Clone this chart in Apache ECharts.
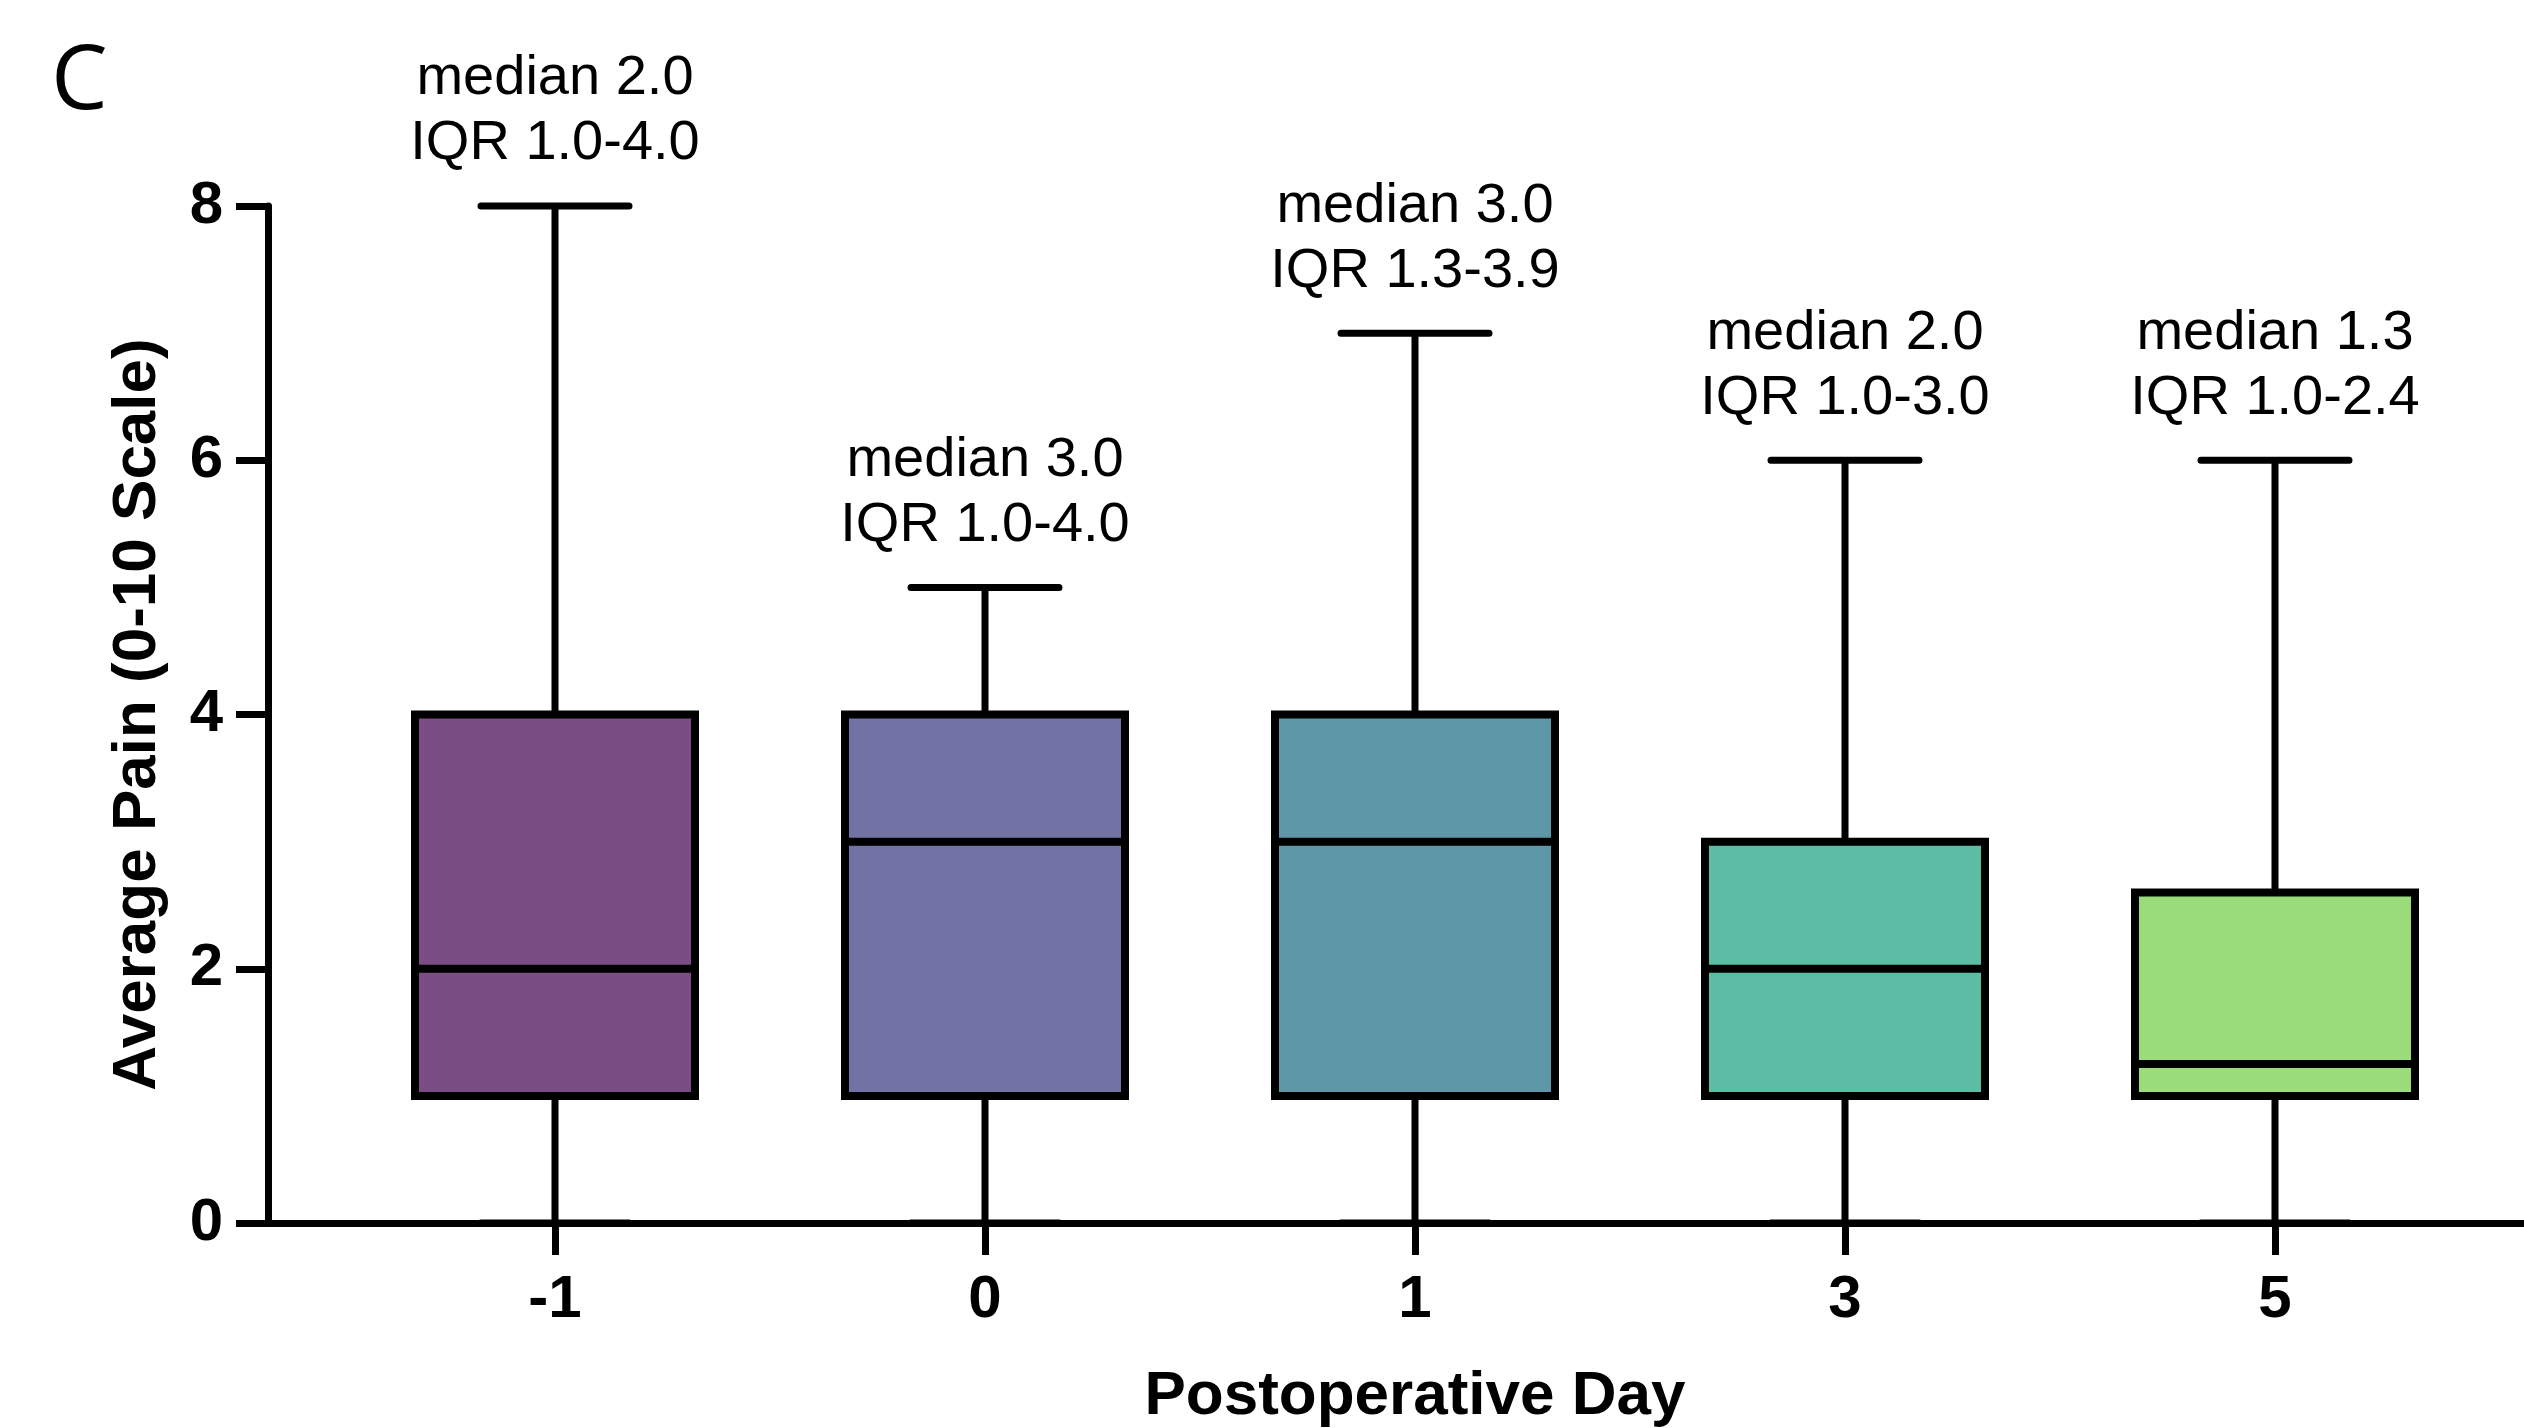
<!DOCTYPE html>
<html>
<head>
<meta charset="utf-8">
<script src="https://cdn.jsdelivr.net/npm/echarts@6/dist/echarts.min.js"></script>
<style>
html,body{margin:0;padding:0;background:#fff}
#chart{width:2524px;height:1428px}
</style>
</head>
<body>
<div id="chart"></div>
<script>
// ---- data ----
const days = ['-1', '0', '1', '3', '5'];
const minVals = [0, 0, 0, 0, 0];
const q1Vals = [1.0, 1.0, 1.0, 1.0, 1.0];
const medianVals = [2.0, 3.0, 3.0, 2.0, 1.25];
const q3Vals = [4.0, 4.0, 4.0, 3.0, 2.6];
const maxVals = [8, 5, 7, 6, 6];
const medianText = ['2.0', '3.0', '3.0', '2.0', '1.3'];
const iqrText = ['1.0-4.0', '1.0-4.0', '1.3-3.9', '1.0-3.0', '1.0-2.4'];
const yTicks = [0, 2, 4, 6, 8];
const boxColors = ['#7A4D85', '#7173A4', '#5E98A8', '#5BBDA3', '#9ADC7A'];

// ---- chart ----
const chart = echarts.init(document.getElementById('chart'));
const FONT = 'Liberation Sans, Arial, Helvetica, sans-serif';

const option = {
  animation: false,
  backgroundColor: '#ffffff',
  title: {
    text: 'C',
    left: 46,
    top: 33,
    textStyle: { fontFamily: 'Open Sans', fontWeight: 'normal', fontSize: 90, color: '#000' }
  },
  grid: [
    { left: 268, right: 0, top: 206, bottom: 205, containLabel: false, outerBoundsMode: 'none' },
    { left: 340, width: 2150, top: 206, bottom: 205, containLabel: false, outerBoundsMode: 'none' }
  ],
  xAxis: [
    {
      gridIndex: 0, type: 'value', min: 0, max: 1,
      axisLine: { show: true, lineStyle: { color: '#000', width: 7 } },
      axisTick: { show: false }, axisLabel: { show: false }, splitLine: { show: false }
    },
    {
      gridIndex: 1, type: 'category', data: days, position: 'bottom',
      axisLine: { show: false },
      axisTick: { show: true, alignWithLabel: true, length: 32, lineStyle: { color: '#000', width: 7 } },
      axisLabel: { margin: 47, fontSize: 60, fontWeight: 'bold', fontFamily: FONT, color: '#000' },
      splitLine: { show: false },
      name: 'Postoperative Day', nameLocation: 'middle', nameGap: 143,
      nameTextStyle: { fontSize: 62, fontWeight: 'bold', fontFamily: FONT, color: '#000' }
    },
    {
      gridIndex: 1, type: 'category', data: days, position: 'top', show: false
    }
  ],
  yAxis: [
    {
      gridIndex: 0, type: 'value', min: yTicks[0], max: yTicks[yTicks.length - 1], interval: 2,
      axisLine: { show: true, lineStyle: { color: '#000', width: 7 } },
      axisTick: { show: true, length: 32, lineStyle: { color: '#000', width: 7 } },
      axisLabel: { margin: 45, fontSize: 60, fontWeight: 'bold', fontFamily: FONT, color: '#000' },
      splitLine: { show: false },
      name: 'Average Pain (0-10 Scale)', nameLocation: 'middle', nameGap: 99,
      nameTextStyle: { fontSize: 62, fontWeight: 'bold', fontFamily: FONT, color: '#000' }
    },
    {
      gridIndex: 1, type: 'value', min: yTicks[0], max: yTicks[yTicks.length - 1], show: false
    }
  ],
  series: [
    {
      name: 'whiskers',
      type: 'boxplot',
      xAxisIndex: 2, yAxisIndex: 1,
      silent: true,
      z: 2,
      boxWidth: [148, 148],
      itemStyle: { color: 'rgba(0,0,0,0)', borderColor: '#000', borderWidth: 7, borderCap: 'round' },
      data: days.map((d, i) => [minVals[i], medianVals[i], medianVals[i], medianVals[i], maxVals[i]])
    },
    {
      name: 'boxes',
      type: 'boxplot',
      xAxisIndex: 1, yAxisIndex: 1,
      silent: true,
      z: 3,
      boxWidth: [280, 280],
      itemStyle: { borderColor: '#000', borderWidth: 8 },
      data: days.map((d, i) => ({
        value: [q1Vals[i], q1Vals[i], medianVals[i], q3Vals[i], q3Vals[i]],
        itemStyle: { color: boxColors[i], borderColor: '#000', borderWidth: 8 }
      }))
    },
    {
      name: 'labels',
      type: 'scatter',
      xAxisIndex: 1, yAxisIndex: 1,
      silent: true,
      z: 4,
      symbolSize: 1,
      itemStyle: { color: 'rgba(0,0,0,0)' },
      label: {
        show: true,
        position: 'top',
        distance: 29,
        fontSize: 56,
        lineHeight: 65,
        fontFamily: FONT,
        color: '#000000',
        opacity: 1,
        textBorderWidth: 0,
        align: 'center',
        formatter: p => 'median ' + medianText[p.dataIndex] + '\nIQR ' + iqrText[p.dataIndex]
      },
      data: days.map((d, i) => [i, maxVals[i]])
    }
  ]
};
chart.setOption(option);
</script>
</body>
</html>
